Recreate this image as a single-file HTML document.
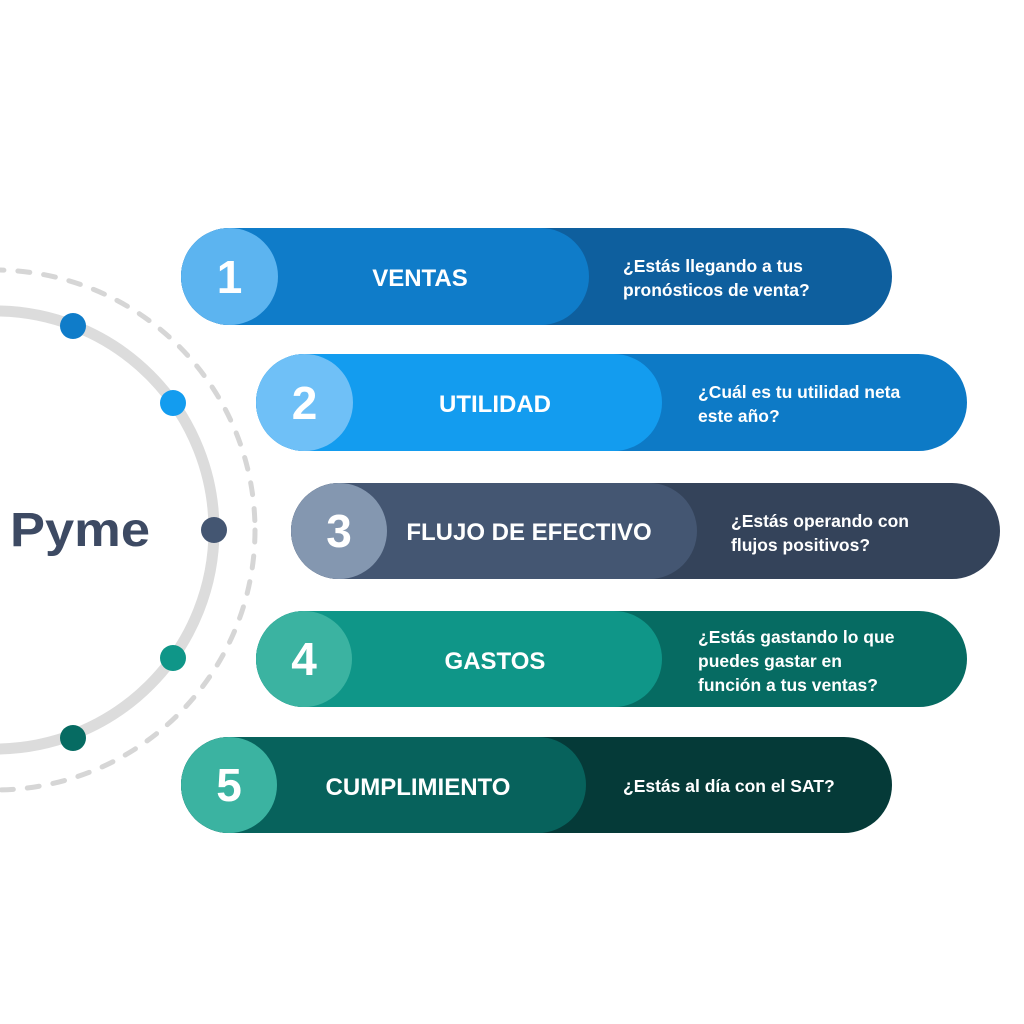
<!DOCTYPE html>
<html><head><meta charset="utf-8"><style>
html,body{margin:0;padding:0;background:#fff;}
svg{display:block;}
text{font-family:"Liberation Sans",sans-serif;font-weight:bold;fill:#fff;}
</style></head><body>
<svg width="1024" height="1024" viewBox="0 0 1024 1024" xmlns="http://www.w3.org/2000/svg">
<circle cx="-5" cy="530" r="260" fill="none" stroke="#d6d6d6" stroke-width="5" stroke-dasharray="12 14" stroke-linecap="round"/>
<circle cx="-5" cy="530" r="219" fill="none" stroke="#dcdcdc" stroke-width="11"/>
<circle cx="73" cy="326" r="13" fill="#0f7cc9"/>
<circle cx="173" cy="403" r="13" fill="#139cef"/>
<circle cx="214" cy="530" r="13" fill="#445672"/>
<circle cx="173" cy="658" r="13" fill="#0f9688"/>
<circle cx="73" cy="738" r="13" fill="#066b62"/>
<text x="10" y="546" font-size="48" style="fill:#3d4a63" textLength="140" lengthAdjust="spacingAndGlyphs">Pyme</text>

<!-- Pill 1 -->
<rect x="181" y="228" width="711" height="97" rx="48.5" fill="#0e5f9e"/>
<rect x="181" y="228" width="408" height="97" rx="48.5" fill="#0f7cc9"/>
<circle cx="229.5" cy="276.5" r="48.5" fill="#5cb4f0"/>
<text x="229.5" y="293" font-size="46" text-anchor="middle">1</text>
<text x="420" y="286" font-size="24" text-anchor="middle">VENTAS</text>
<text x="623" y="272" font-size="17.5">¿Estás llegando a tus</text>
<text x="623" y="296" font-size="17.5">pronósticos de venta?</text>

<!-- Pill 2 -->
<rect x="256" y="354" width="711" height="97" rx="48.5" fill="#0d7ac6"/>
<rect x="256" y="354" width="406" height="97" rx="48.5" fill="#139cef"/>
<circle cx="304.5" cy="402.5" r="48.5" fill="#6fc0f7"/>
<text x="304.5" y="419" font-size="46" text-anchor="middle">2</text>
<text x="495" y="412" font-size="24" text-anchor="middle">UTILIDAD</text>
<text x="698" y="398" font-size="17.5">¿Cuál es tu utilidad neta</text>
<text x="698" y="422" font-size="17.5">este año?</text>

<!-- Pill 3 -->
<rect x="291" y="483" width="709" height="96" rx="48" fill="#34435a"/>
<rect x="291" y="483" width="406" height="96" rx="48" fill="#445672"/>
<circle cx="339" cy="531" r="48" fill="#8497b0"/>
<text x="339" y="547" font-size="46" text-anchor="middle">3</text>
<text x="529" y="540" font-size="24" text-anchor="middle">FLUJO DE EFECTIVO</text>
<text x="731" y="527" font-size="17.5">¿Estás operando con</text>
<text x="731" y="551" font-size="17.5">flujos positivos?</text>

<!-- Pill 4 -->
<rect x="256" y="611" width="711" height="96" rx="48" fill="#066b62"/>
<rect x="256" y="611" width="406" height="96" rx="48" fill="#0f9688"/>
<circle cx="304" cy="659" r="48" fill="#3bb3a1"/>
<text x="304" y="675" font-size="46" text-anchor="middle">4</text>
<text x="495" y="669" font-size="24" text-anchor="middle">GASTOS</text>
<text x="698" y="643" font-size="17.5">¿Estás gastando lo que</text>
<text x="698" y="667" font-size="17.5">puedes gastar en</text>
<text x="698" y="691" font-size="17.5">función a tus ventas?</text>

<!-- Pill 5 -->
<rect x="181" y="737" width="711" height="96" rx="48" fill="#053a38"/>
<rect x="181" y="737" width="405" height="96" rx="48" fill="#07625c"/>
<circle cx="229" cy="785" r="48" fill="#3bb3a1"/>
<text x="229" y="801" font-size="46" text-anchor="middle">5</text>
<text x="418" y="795" font-size="24" text-anchor="middle">CUMPLIMIENTO</text>
<text x="623" y="792" font-size="17.5">¿Estás al día con el SAT?</text>
</svg>
</body></html>
